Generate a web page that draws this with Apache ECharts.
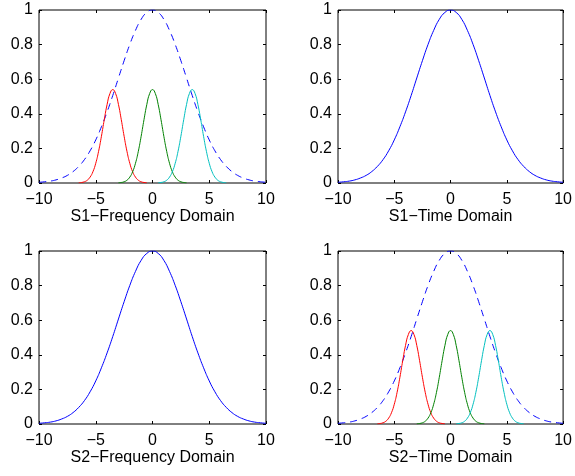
<!DOCTYPE html>
<html>
<head>
<meta charset="utf-8">
<script src="https://cdn.jsdelivr.net/npm/echarts@6/dist/echarts.min.js"></script>
<style>
html,body{margin:0;padding:0;background:#fff;}
#main{width:575px;height:476px;}
</style>
</head>
<body>
<div id="main"></div>
<script>
var wideX = [-10,-9.5,-9,-8.5,-8,-7.5,-7,-6.5,-6,-5.5,-5,-4.5,-4,-3.5,-3,-2.5,-2,-1.5,-1,-0.5,0,
	0.5,1,1.5,2,2.5,3,3.5,4,4.5,5,5.5,6,6.5,7,7.5,8,8.5,9,9.5,10];
var wideY = [0.004,0.007,0.011,0.018,0.029,0.044,0.066,0.096,0.135,0.186,0.249,0.325,0.411,0.506,0.607,0.707,0.801,0.882,0.946,0.986,1,
	0.986,0.946,0.882,0.801,0.707,0.607,0.506,0.411,0.325,0.249,0.186,0.135,0.096,0.066,0.044,0.029,0.018,0.011,0.007,0.004];
// narrow bumps: offsets from their centre and heights
var bumpOffset = [-3,-2.75,-2.5,-2.25,-2,-1.75,-1.5,-1.25,-1,-0.75,-0.5,-0.25,0,0.25,0.5,0.75,1,1.25,1.5,1.75,2,2.25,2.5,2.75,3];
var bumpY = [0.001,0.003,0.007,0.016,0.034,0.065,0.114,0.183,0.270,0.366,0.454,0.517,0.54,0.517,0.454,0.366,0.270,0.183,0.114,0.065,0.034,0.016,0.007,0.003,0.001];
var bumpCentres = [-3.5, 0, 3.5];
var bumpColors = ['#ff0000', '#008000', '#00bfbf'];
var xTicks = [-10, 10, 5];   // min, max, interval
var yTicks = [0, 1, 0.2];
var titles = ['S1\u2212Frequency Domain', 'S1\u2212Time Domain', 'S2\u2212Frequency Domain', 'S2\u2212Time Domain'];
var hasBumps = [true, false, false, true];

var grids = [
	{left: 39, top: 10, width: 227, height: 173},
	{left: 338, top: 10, width: 228, height: 173},
	{left: 39, top: 251, width: 227, height: 173},
	{left: 338, top: 251, width: 228, height: 173}
];

function pairs(xs, ys){
	return xs.map(function(x, i){ return [x, ys[i]]; });
}
function minusSign(v){
	return String(v).replace('-', '\u2212');
}

var font = 'Liberation Sans, Arial, sans-serif';
var xAxes = [], yAxes = [], series = [];
grids.forEach(function(g, i){
	g.show = true;
	g.borderColor = '#000';
	g.borderWidth = 1;
	g.backgroundColor = '#fff';
	var base = {
		type: 'value', gridIndex: i,
		min: xTicks[0], max: xTicks[1], interval: xTicks[2],
		axisLine: {show: false, onZero: false},
		splitLine: {show: false},
		axisTick: {inside: true, length: 3, lineStyle: {color: '#000'}}
	};
	xAxes.push(Object.assign({}, base, {
		position: 'bottom',
		axisLabel: {color: '#000', fontSize: 16, fontFamily: font, margin: 9, formatter: minusSign},
		name: titles[i], nameLocation: 'middle', nameGap: 24,
		nameTextStyle: {color: '#000', fontSize: 16, fontFamily: font}
	}));
	xAxes.push(Object.assign({}, base, {position: 'top', axisLabel: {show: false}}));
	var ybase = {
		type: 'value', gridIndex: i,
		min: yTicks[0], max: yTicks[1], interval: yTicks[2],
		axisLine: {show: false, onZero: false},
		splitLine: {show: false},
		axisTick: {inside: true, length: 3, lineStyle: {color: '#000'}}
	};
	yAxes.push(Object.assign({}, ybase, {
		position: 'left',
		axisLabel: {color: '#000', fontSize: 16, fontFamily: font, margin: 6}
	}));
	yAxes.push(Object.assign({}, ybase, {position: 'right', axisLabel: {show: false}}));

	series.push({
		type: 'line', xAxisIndex: i * 2, yAxisIndex: i * 2,
		data: pairs(wideX, wideY), showSymbol: false, smooth: true,
		lineStyle: {color: '#0000ff', width: 1, type: hasBumps[i] ? [7, 5] : 'solid'}
	});
	if (hasBumps[i]) {
		bumpCentres.forEach(function(c, k){
			series.push({
				type: 'line', xAxisIndex: i * 2, yAxisIndex: i * 2,
				data: pairs(bumpOffset.map(function(d){ return c + d; }), bumpY),
				showSymbol: false, smooth: true,
				lineStyle: {color: bumpColors[k], width: 1}
			});
		});
	}
});

var myChart = echarts.init(document.getElementById('main'));
myChart.setOption({
	animation: false,
	backgroundColor: '#fff',
	grid: grids,
	xAxis: xAxes,
	yAxis: yAxes,
	series: series
});
</script>
</body>
</html>
